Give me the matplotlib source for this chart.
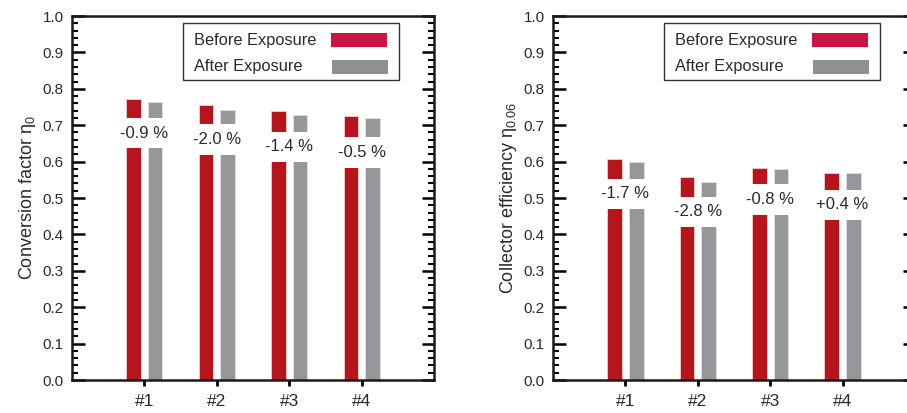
import matplotlib
matplotlib.use("Agg")
import matplotlib.pyplot as plt
from matplotlib.patches import Rectangle
from matplotlib.ticker import MultipleLocator

plt.rcParams['font.family'] = ['Liberation Sans', 'DejaVu Sans']
plt.rcParams['mathtext.fontset'] = 'custom'
plt.rcParams['mathtext.rm'] = 'Liberation Sans'
plt.rcParams['mathtext.it'] = 'Liberation Sans'

categories = ['#1', '#2', '#3', '#4']
legend_labels = ['Before Exposure', 'After Exposure']

# Left panel: conversion factor
conv_before = [0.771, 0.755, 0.739, 0.724]
conv_after = [0.764, 0.742, 0.728, 0.721]
conv_gap_low = [0.636, 0.619, 0.599, 0.583]
conv_gap_high = [0.720, 0.702, 0.682, 0.667]
conv_changes = ['-0.9 %', '-2.0 %', '-1.4 %', '-0.5 %']

# Right panel: collector efficiency
eff_before = [0.608, 0.559, 0.583, 0.568]
eff_after = [0.598, 0.543, 0.579, 0.570]
eff_gap_low = [0.470, 0.420, 0.454, 0.440]
eff_gap_high = [0.553, 0.504, 0.538, 0.522]
eff_changes = ['-1.7 %', '-2.8 %', '-0.8 %', '+0.4 %']

RED = '#B5151C'
GRAY = '#96979B'
LEG_RED = '#CC1346'
LEG_GRAY = '#8F9094'
TXT = '#2a2a2a'

W, H = 907, 413
fig = plt.figure(figsize=(W / 100, H / 100), dpi=100)
ax1 = fig.add_axes([72 / W, (H - 380) / H, 362 / W, 364 / H])
ax2 = fig.add_axes([553 / W, (H - 380) / H, 362 / W, 364 / H])


def panel(ax, before, after, glo, ghi, changes, ylabel):
    x = list(range(1, len(categories) + 1))
    bw = 0.2
    off = 0.15
    ax.bar([v - off for v in x], before, width=bw, color=RED,
           edgecolor='#f2d0d0', linewidth=0.6, zorder=2)
    ax.bar([v + off for v in x], after, width=bw, color=GRAY,
           edgecolor='#e0e0e0', linewidth=0.6, zorder=2)
    for xi, lo, hi, lab in zip(x, glo, ghi, changes):
        ax.add_patch(Rectangle((xi - 0.45, lo), 0.9, hi - lo,
                               facecolor='white', edgecolor='none', zorder=3))
        ax.text(xi, (lo + hi) / 2, lab, ha='center', va='center',
                fontsize=12, color=TXT, zorder=4)
    ax.set_xlim(0, 5)
    ax.set_ylim(0, 1.0)
    ax.set_xticks(x)
    ax.set_xticklabels(categories, fontsize=12.5, color=TXT)
    ax.yaxis.set_major_locator(MultipleLocator(0.1))
    ax.yaxis.set_minor_locator(MultipleLocator(0.02))
    ax.set_yticks([i / 10 for i in range(11)])
    ax.set_yticklabels([f'{i / 10:.1f}' for i in range(11)], fontsize=11, color=TXT)
    ax.tick_params(axis='y', which='major', direction='in', length=9, width=1.8,
                   left=True, right=True, pad=6)
    ax.tick_params(axis='y', which='minor', direction='in', length=4.5, width=1.5,
                   left=True, right=True)
    ax.tick_params(axis='x', which='major', direction='out', length=4, width=2,
                   pad=6, top=False)
    for s in ax.spines.values():
        s.set_linewidth(1.8)
        s.set_color('#1a1a1a')
    ax.set_ylabel(ylabel, fontsize=13, color=TXT, labelpad=3)

    # legend (manual)
    ax.add_patch(Rectangle((0.306, 0.823), 0.598, 0.157, transform=ax.transAxes,
                           facecolor='white', edgecolor='#333333', linewidth=1.0,
                           zorder=5))
    ax.text(0.337, 0.933, legend_labels[0], transform=ax.transAxes, fontsize=11.8,
            color=TXT, va='center', ha='left', zorder=6)
    ax.text(0.337, 0.86, legend_labels[1], transform=ax.transAxes, fontsize=11.8,
            color=TXT, va='center', ha='left', zorder=6)
    ax.add_patch(Rectangle((0.715, 0.914), 0.155, 0.039, transform=ax.transAxes,
                           facecolor=LEG_RED, edgecolor='none', zorder=6))
    ax.add_patch(Rectangle((0.718, 0.841), 0.155, 0.039, transform=ax.transAxes,
                           facecolor=LEG_GRAY, edgecolor='none', zorder=6))


panel(ax1, conv_before, conv_after, conv_gap_low, conv_gap_high, conv_changes,
      r'Conversion factor $\mathregular{\eta_0}$')
panel(ax2, eff_before, eff_after, eff_gap_low, eff_gap_high, eff_changes,
      r'Collector efficiency $\mathregular{\eta_{0.06}}$')

fig.savefig('out.png', dpi=100)
